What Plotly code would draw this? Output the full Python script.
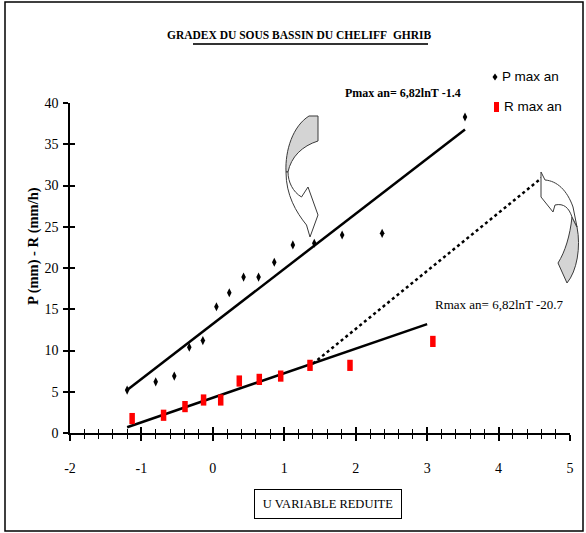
import plotly.graph_objects as go

# Reduced Gumbel variable (u) and annual maxima
p_u = [-1.20, -0.80, -0.54, -0.33, -0.14, 0.05, 0.23, 0.43, 0.64, 0.86, 1.12, 1.42, 1.81, 2.37, 3.53]
p_val = [5.2, 6.2, 6.9, 10.4, 11.2, 15.3, 17.0, 18.9, 18.9, 20.7, 22.8, 23.0, 24.0, 24.2, 38.3]

r_u = [-1.13, -0.69, -0.39, -0.13, 0.11, 0.37, 0.65, 0.95, 1.36, 1.92, 3.08]
r_val = [1.75, 2.15, 3.2, 4.0, 4.0, 6.3, 6.5, 6.9, 8.2, 8.2, 11.1]

# Adjustment lines (end points)
p_fit_u = [-1.20, 3.53]
p_fit_val = [5.2, 36.8]
r_fit_u = [-1.20, 3.00]
r_fit_val = [0.7, 13.2]
gradex_u = [1.40, 4.60]
gradex_val = [8.4, 30.9]

x_ticks = [-2, -1, 0, 1, 2, 3, 4, 5]
x_ticktext = ["-2", "-1", "0", "1", "2", "3", "4", "5"]
y_ticks = [0, 5, 10, 15, 20, 25, 30, 35, 40]

W, H = 586, 533
ML, MR, MT, MB = 70, 16, 103, 100
PW, PH = W - ML - MR, H - MT - MB


def px(X):
    return (X - ML) / PW


def py(Y):
    return (H - MB - Y) / PH


SERIF = "Liberation Serif, Times New Roman, serif"
SANS = "Liberation Sans, Arial, sans-serif"

fig = go.Figure()

fig.add_trace(go.Scatter(x=p_fit_u, y=p_fit_val, mode="lines",
                         line=dict(color="black", width=2.5), showlegend=False))
fig.add_trace(go.Scatter(x=r_fit_u, y=r_fit_val, mode="lines",
                         line=dict(color="black", width=2.5), showlegend=False))
fig.add_trace(go.Scatter(x=gradex_u, y=gradex_val, mode="lines",
                         line=dict(color="black", width=2.5, dash="dot"), showlegend=False))
fig.add_trace(go.Scatter(x=p_u, y=p_val, mode="markers", name="P max an",
                         marker=dict(symbol="diamond-tall", size=6.5, color="black"),
                         showlegend=False))
fig.add_trace(go.Scatter(x=r_u, y=r_val, mode="markers", name="R max an",
                         marker=dict(symbol="line-ns", size=8,
                                     line=dict(color="red", width=5.5)),
                         showlegend=False))
# companion axes carrying the inner half of the crossing ticks
fig.add_trace(go.Scatter(x=[], y=[], xaxis="x2", yaxis="y2", showlegend=False))

axis_common = dict(showgrid=False, zeroline=False, showline=True,
                   linecolor="black", linewidth=1.5, tickcolor="black", tickwidth=1.5)

fig.update_layout(
    width=W, height=H,
    margin=dict(l=ML, r=MR, t=MT, b=MB),
    paper_bgcolor="white", plot_bgcolor="white",
    showlegend=False,
    xaxis=dict(range=[-2, 5], tickvals=x_ticks, ticktext=x_ticktext, ticks="outside", ticklen=6,
               minor=dict(dtick=0.2, ticks="outside", ticklen=4, tickcolor="black", tickwidth=1.2),
               tickfont=dict(family=SERIF, size=14, color="black"),
               ticklabelstandoff=15, **axis_common),
    yaxis=dict(range=[0, 40], tickvals=y_ticks, ticks="outside", ticklen=5,
               tickfont=dict(family=SERIF, size=14, color="black"),
               ticklabelstandoff=2, **axis_common),
    xaxis2=dict(range=[-2, 5], overlaying="x", tickvals=x_ticks, ticks="inside", ticklen=6,
                minor=dict(dtick=0.2, ticks="inside", ticklen=4, tickcolor="black", tickwidth=1.2),
                showticklabels=False, **axis_common),
    yaxis2=dict(range=[0, 40], overlaying="y", tickvals=y_ticks, ticks="inside", ticklen=5,
                showticklabels=False, **axis_common),
)


def ann(X, Y, text, size, family=SERIF, xanchor="center", bold=False, **kw):
    t = f"<b>{text}</b>" if bold else text
    fig.add_annotation(x=px(X), y=py(Y), xref="paper", yref="paper", text=t,
                       showarrow=False, xanchor=xanchor, yanchor="middle",
                       font=dict(family=family, size=size, color="black"), **kw)


ann(299, 35, "GRADEX DU SOUS BASSIN DU CHELIFF&nbsp;&nbsp;GHRIB", 11.5, bold=True)
ann(343, 93, "Pmax an= 6,82lnT -1.4", 12, xanchor="left", bold=True)
ann(433, 304, "Rmax an= 6,82lnT -20.7", 13, xanchor="left")
ann(500, 77, "P max an", 13.5, family=SANS, xanchor="left")
ann(502, 107, "R max an", 13.5, family=SANS, xanchor="left")
ann(33, 246, "P (mm) - R (mm/h)", 14.5, bold=True, textangle=-90)
ann(328, 504, "U VARIABLE REDUITE", 12.5, width=146, height=28, borderpad=0,
    bordercolor="black", borderwidth=1)


def to_path(cmds):
    out = []
    for c in cmds:
        if isinstance(c, str):
            out.append(c)
        else:
            out.append(f"{px(c[0]):.5f},{py(c[1]):.5f}")
    return " ".join(out)


shapes = []
# underline of the title
shapes.append(dict(type="line", xref="paper", yref="paper",
                   x0=px(193), x1=px(428), y0=py(44), y1=py(44),
                   line=dict(color="#333333", width=2)))
# legend keys
shapes.append(dict(type="path", xref="paper", yref="paper",
                   path=to_path(["M", (495, 73.5), "L", (497.5, 77), "L", (495, 80.5), "L", (492.5, 77), "Z"]),
                   fillcolor="black", line=dict(width=0)))
shapes.append(dict(type="rect", xref="paper", yref="paper",
                   x0=px(494), x1=px(499), y0=py(102), y1=py(112),
                   fillcolor="red", line=dict(width=0)))

EDGE = dict(color="#3a3a3a", width=1)
GREY = "#d4d4d4"

# left curved arrow: grey upper part
shapes.append(dict(type="path", xref="paper", yref="paper",
                   path=to_path(["M", (309, 116), "L", (318, 116), "L", (318, 141),
                                 "C", (302, 146), (291, 157), (288, 172),
                                 "L", (286, 172),
                                 "C", (285, 150), (293, 126), (309, 116), "Z"]),
                   fillcolor=GREY, line=EDGE))
# left curved arrow: white lower part with head
shapes.append(dict(type="path", xref="paper", yref="paper",
                   path=to_path(["M", (286, 172), "L", (288, 172),
                                 "C", (288, 182), (293, 192), (301.5, 197),
                                 "L", (308, 187), "L", (318, 215), "L", (310, 237),
                                 "L", (306.5, 225),
                                 "C", (296, 212), (286, 195), (286, 172), "Z"]),
                   fillcolor="white", line=EDGE))

# right curved arrow: grey lower part
shapes.append(dict(type="path", xref="paper", yref="paper",
                   path=to_path(["M", (558, 263), "L", (567, 283),
                                 "C", (577, 271), (581, 247), (577, 227),
                                 "L", (572, 217),
                                 "C", (570, 236), (565, 252), (558, 263), "Z"]),
                   fillcolor=GREY, line=EDGE))
# right curved arrow: white upper part with head
shapes.append(dict(type="path", xref="paper", yref="paper",
                   path=to_path(["M", (541, 172), "L", (545, 180),
                                 "C", (557, 181), (567, 190), (573, 207),
                                 "L", (577, 227), "L", (572, 217),
                                 "C", (569, 208), (564, 203), (555, 205),
                                 "L", (553, 212), "L", (541, 197), "Z"]),
                   fillcolor="white", line=EDGE))

# outer frame
shapes.append(dict(type="rect", xref="paper", yref="paper",
                   x0=px(5), x1=px(583), y0=py(531), y1=py(2),
                   line=dict(color="black", width=1.5), fillcolor="rgba(0,0,0,0)"))

fig.update_layout(shapes=shapes)

fig.write_html("out.html")
